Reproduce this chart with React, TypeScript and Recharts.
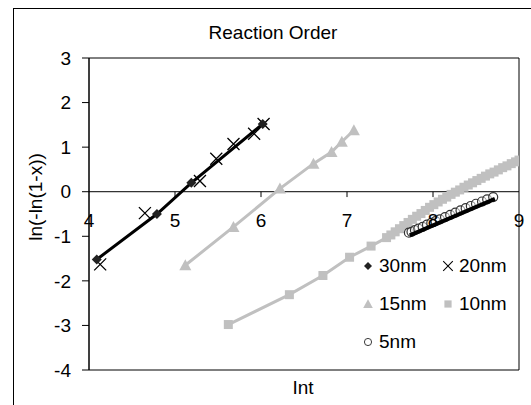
import { ScatterChart, Scatter, XAxis, YAxis, ReferenceArea, ReferenceLine, ReferenceDot } from 'recharts';

const X_TICKS = [4, 5, 6, 7, 8, 9];
const X_TICK_MARKS = [5, 6, 7, 8];
const Y_TICKS = [-4, -3, -2, -1, 0, 1, 2, 3];

const NM30_X = [4.09, 4.79, 5.19, 6.02];
const NM30_Y = [-1.52, -0.5, 0.2, 1.52];

const NM20_X = [4.13, 4.65, 5.29, 5.48, 5.68, 5.92, 6.03];
const NM20_Y = [-1.63, -0.48, 0.24, 0.74, 1.07, 1.3, 1.52];

const NM15_X = [5.12, 5.68, 6.22, 6.61, 6.82, 6.94, 7.08];
const NM15_Y = [-1.65, -0.79, 0.07, 0.63, 0.89, 1.12, 1.38];

const NM10_X = [5.62, 6.33, 6.72, 7.03, 7.28, 7.46, 7.51, 7.56, 7.61, 7.66, 7.71, 7.76, 7.81, 7.86, 7.91, 7.96, 8.01, 8.06, 8.11, 8.16, 8.21, 8.26, 8.31, 8.36, 8.41, 8.46, 8.51, 8.56, 8.61, 8.66, 8.71, 8.76, 8.81, 8.86, 8.91, 8.96, 9.0];
const NM10_Y = [-2.98, -2.31, -1.88, -1.47, -1.22, -1.03, -0.97, -0.9, -0.83, -0.76, -0.69, -0.62, -0.55, -0.49, -0.42, -0.35, -0.29, -0.23, -0.17, -0.12, -0.06, -0.01, 0.04, 0.1, 0.15, 0.2, 0.25, 0.3, 0.35, 0.4, 0.44, 0.49, 0.54, 0.58, 0.63, 0.67, 0.71];

const NM5_X = [7.72, 7.75, 7.79, 7.83, 7.88, 7.93, 7.98, 8.03, 8.08, 8.14, 8.2, 8.26, 8.32, 8.38, 8.44, 8.5, 8.57, 8.63, 8.7];
const NM5_Y = [-0.92, -0.9, -0.86, -0.83, -0.79, -0.74, -0.7, -0.66, -0.62, -0.57, -0.52, -0.47, -0.42, -0.37, -0.32, -0.27, -0.22, -0.17, -0.12];

// black fit line drawn under the 5nm circles
const FIT5_X = [7.73, 8.72];
const FIT5_Y = [-0.98, -0.16];

const toPoints = (xs: number[], ys: number[]) => xs.map((x, i) => ({ x, y: ys[i] }));

const GREY = '#c0c0c0';
const FONT = '"Liberation Sans", Arial, sans-serif';
const FS = 19;

type P = { cx?: number; cy?: number };

const Diamond = ({ cx = 0, cy = 0 }: P) => (
  <path d={`M${cx},${cy - 5}L${cx + 5},${cy}L${cx},${cy + 5}L${cx - 5},${cy}Z`} fill="#222" />
);
const XMark = ({ cx = 0, cy = 0 }: P) => (
  <path d={`M${cx - 6},${cy - 6}L${cx + 6},${cy + 6}M${cx - 6},${cy + 6}L${cx + 6},${cy - 6}`} stroke="#000" strokeWidth={1.3} fill="none" />
);
const Triangle = ({ cx = 0, cy = 0 }: P) => (
  <path d={`M${cx},${cy - 6}L${cx + 6},${cy + 5}L${cx - 6},${cy + 5}Z`} fill={GREY} />
);
const Square = ({ cx = 0, cy = 0 }: P) => (
  <rect x={cx - 4.5} y={cy - 4.5} width={9} height={9} fill={GREY} />
);
const Ring = ({ cx = 0, cy = 0 }: P) => (
  <circle cx={cx} cy={cy} r={4.5} fill="#fff" fillOpacity={0.5} stroke="#333" strokeWidth={1.2} />
);
const NoMark = () => <g />;

const LEGEND_ROWS = [
  [{ label: '30nm', Mark: Diamond }, { label: '20nm', Mark: XMark }],
  [{ label: '15nm', Mark: Triangle }, { label: '10nm', Mark: Square }],
  [{ label: '5nm', Mark: Ring }],
];

const LegendBox = () => (
  <div style={{ position: 'absolute', left: 360, top: 246, width: 170, fontFamily: FONT, fontSize: FS, color: '#000' }}>
    {LEGEND_ROWS.map((row, r) => (
      <div key={r} style={{ display: 'flex', alignItems: 'center', height: r === 0 ? 39 : 38 }}>
        {row.map(({ label, Mark }) => (
          <div key={label} style={{ display: 'flex', alignItems: 'center', width: 80 }}>
            <svg width={16} height={16} style={{ marginRight: 3 }}>
              <g transform="scale(0.8) translate(2,2)">
                <Mark cx={8} cy={8} />
              </g>
            </svg>
            <span>{label}</span>
          </div>
        ))}
      </div>
    ))}
  </div>
);

export default function App() {
  return (
    <div style={{ position: 'absolute', left: 0, top: 0, width: 531, height: 405, overflow: 'hidden', background: '#fff', fontFamily: FONT }}>
      <div style={{ position: 'absolute', left: 13, top: 8, width: 540, height: 420, border: '1px solid #000' }} />
      <div style={{ position: 'absolute', left: 173, top: 22, width: 200, textAlign: 'center', fontSize: FS, lineHeight: '22px' }}>
        Reaction Order
      </div>
      <div style={{ position: 'absolute', left: 253, top: 377, width: 100, textAlign: 'center', fontSize: FS, lineHeight: '22px' }}>
        Int
      </div>
      <ScatterChart width={531} height={405} margin={{ top: 58, right: 12, bottom: 35, left: 13 }} style={{ position: 'absolute', left: 0, top: 0 }}>
        <XAxis type="number" dataKey="x" domain={[4, 9]} ticks={X_TICKS} hide allowDataOverflow />
        <YAxis
          type="number"
          dataKey="y"
          domain={[-4, 3]}
          ticks={Y_TICKS}
          interval={0}
          width={76}
          tickSize={7}
          tickMargin={11}
          tick={{ fontSize: FS, fill: '#000', fontFamily: FONT }}
          axisLine={{ stroke: '#000' }}
          tickLine={{ stroke: '#000' }}
          label={{
            content: ({ viewBox }: any) => {
              const x = viewBox.x + 22;
              const y = viewBox.y + viewBox.height / 2 - 17;
              return (
                <text x={x} y={y} transform={`rotate(-90 ${x} ${y})`} textAnchor="middle" dominantBaseline="central" fontSize={FS} fontFamily={FONT} fill="#000">
                  ln(-ln(1-x))
                </text>
              );
            },
          }}
        />
        <ReferenceArea x1={4} x2={9} y1={-4} y2={3} fill="none" stroke="#000" strokeWidth={1} />
        <ReferenceLine y={0} stroke="#000" strokeWidth={1} />
        {X_TICK_MARKS.map((t) => (
          <ReferenceLine key={`tm${t}`} segment={[{ x: t, y: 0 }, { x: t, y: -0.12 }]} stroke="#000" />
        ))}
        {X_TICKS.map((t) => (
          <ReferenceDot
            key={`tl${t}`}
            x={t}
            y={0}
            r={0}
            fill="none"
            stroke="none"
            label={{ value: String(t), position: 'bottom', offset: 22, fontSize: FS, fill: '#000', fontFamily: FONT }}
          />
        ))}
        <Scatter name="10nm" data={toPoints(NM10_X, NM10_Y)} line={{ stroke: GREY, strokeWidth: 3 }} lineType="joint" shape={<Square />} isAnimationActive={false} />
        <Scatter name="15nm" data={toPoints(NM15_X, NM15_Y)} line={{ stroke: GREY, strokeWidth: 3 }} lineType="joint" shape={<Triangle />} isAnimationActive={false} />
        <Scatter name="5nm" data={toPoints(NM5_X, NM5_Y)} shape={<Ring />} isAnimationActive={false} />
        <Scatter name="5nm fit" data={toPoints(FIT5_X, FIT5_Y)} line={{ stroke: '#000', strokeWidth: 4 }} lineType="joint" shape={<NoMark />} isAnimationActive={false} />
        <Scatter name="20nm" data={toPoints(NM20_X, NM20_Y)} shape={<XMark />} isAnimationActive={false} />
        <Scatter name="30nm" data={toPoints(NM30_X, NM30_Y)} line={{ stroke: '#000', strokeWidth: 3 }} lineType="joint" shape={<Diamond />} isAnimationActive={false} />
      </ScatterChart>
      <LegendBox />
    </div>
  );
}
